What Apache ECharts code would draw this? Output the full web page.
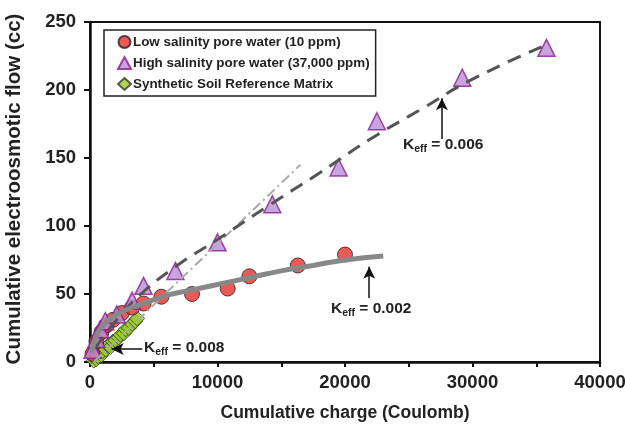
<!DOCTYPE html>
<html>
<head>
<meta charset="utf-8">
<script src="https://cdn.jsdelivr.net/npm/echarts@6/dist/echarts.min.js"></script>
<style>
  html, body { margin: 0; padding: 0; background: #fff; }
  #chart { width: 625px; height: 428px; }
</style>
</head>
<body>
<div id="chart"></div>
<script>
// measured points (charge in C, flow in cc)
const lowCharge = [200, 500, 900, 1300, 1800, 2500, 3300, 4200, 5600, 8000, 10800, 12500, 16300, 20000];
const lowFlow   = [6, 15, 22, 27, 31, 36, 40, 43, 48, 50, 54, 63, 71, 79];

const highCharge = [200, 500, 800, 1200, 2100, 3300, 4200, 6700, 10000, 14300, 19500, 22500, 29200, 35800];
const highFlow   = [9, 17, 24, 30, 35, 45, 56, 67, 88, 116, 143, 177, 209, 231];

const soilCharge = [300, 500, 650, 900, 1000, 1250, 1400, 1600, 1800, 2000, 2250, 2400, 2650, 2800, 3050, 3300, 3550, 3700];
const soilFlow   = [1, 2, 4, 5, 8, 9, 12, 11, 15, 16, 18, 20, 21, 24, 25, 28, 30, 32];

// fitted trend lines
const fitLowCharge = [150, 700, 1800, 3000, 4500, 6000, 8000, 10000, 12500, 15000, 17500, 20000, 23000];
const fitLowFlow   = [7, 23, 33, 39, 44, 49, 53, 57, 62, 67, 71, 75, 78];

const fitHighCharge = [400, 2000, 4000, 7000, 10000, 14000, 18000, 22000, 26000, 30000, 36000];
const fitHighFlow   = [10, 30, 50, 72, 90, 115, 139, 164, 186, 208, 234];

const fitSoilCharge = [300, 16500];
const fitSoilFlow   = [0, 145];

const xTicks = [0, 10000, 20000, 30000, 40000];

const pairs = (xs, ys) => xs.map((x, i) => [x, ys[i]]);

const chart = echarts.init(document.getElementById('chart'));
const FONT = 'Liberation Sans, Arial, sans-serif';

const keffLabel = (val, left, top) => ({
  type: 'text',
  left: left,
  top: top,
  z: 20,
  style: {
    text: '{k|K}{s|eff}{k| = ' + val + '}',
    rich: {
      k: { fontFamily: FONT, fontWeight: 'bold', fontSize: 15.5, fill: '#222' },
      s: { fontFamily: FONT, fontWeight: 'bold', fontSize: 10.5, fill: '#222', padding: [8, 0, 0, 0] }
    }
  }
});

const arrowLine = (from, to) => ({
  symbol: ['none', 'arrow'],
  symbolSize: [9, 12],
  lineStyle: { color: '#111', width: 1.5, type: 'solid' },
  label: { show: false },
  data: [[{ coord: from }, { coord: to }]]
});

const option = {
  animation: false,
  textStyle: { fontFamily: FONT },
  grid: {
    left: 90, right: 25, top: 22, bottom: 66,
    outerBoundsMode: 'none', containLabel: false,
    show: true, borderColor: '#111', borderWidth: 2
  },
  legend: {
    data: ['Low salinity pore water (10 ppm)', 'High salinity pore water (37,000 ppm)', 'Synthetic Soil Reference Matrix'],
    orient: 'vertical',
    left: 104,
    top: 30,
    padding: [5, 6, 5, 13],
    itemGap: 7,
    itemWidth: 13,
    itemHeight: 12,
    borderColor: '#222',
    borderWidth: 1.5,
    backgroundColor: '#fff',
    textStyle: { fontFamily: FONT, fontWeight: 'bold', fontSize: 13.4, color: '#222', padding: [0, 0, 0, -3] }
  },
  xAxis: {
    type: 'value',
    min: 0,
    max: 40000,
    interval: 5000,
    name: 'Cumulative charge (Coulomb)',
    nameLocation: 'middle',
    nameGap: 42,
    nameTextStyle: { fontFamily: FONT, fontWeight: 'bold', fontSize: 17.5, color: '#222' },
    splitLine: { show: false },
    axisLine: { onZero: false, lineStyle: { color: '#111', width: 2.5 } },
    axisTick: { inside: false, length: 5, lineStyle: { color: '#111', width: 2 } },
    axisLabel: {
      margin: 11,
      fontFamily: FONT, fontWeight: 'bold', fontSize: 18.5, color: '#222',
      formatter: v => (xTicks.indexOf(v) >= 0 ? String(v) : '')
    }
  },
  yAxis: {
    type: 'value',
    min: 0,
    max: 250,
    interval: 50,
    name: 'Cumulative electroosmotic flow (cc)',
    nameLocation: 'middle',
    nameGap: 65,
    nameTextStyle: { fontFamily: FONT, fontWeight: 'bold', fontSize: 20.5, color: '#222', padding: [0, 0, 0, 6] },
    splitLine: { show: false },
    axisLine: { onZero: false, lineStyle: { color: '#111', width: 2.5 } },
    axisTick: { inside: false, length: 6, lineStyle: { color: '#111', width: 2 } },
    axisLabel: { margin: 14, fontFamily: FONT, fontWeight: 'bold', fontSize: 18.5, color: '#222' }
  },
  graphic: [
    keffLabel('0.006', 403, 137),
    keffLabel('0.002', 331, 301),
    keffLabel('0.008', 144, 340)
  ],
  series: [
    {
      name: 'Synthetic Soil Reference Matrix',
      type: 'scatter',
      symbol: 'diamond',
      symbolSize: 15,
      z: 2,
      itemStyle: { color: '#9acd2a', borderColor: '#333', borderWidth: 1 },
      data: pairs(soilCharge, soilFlow)
    },
    {
      name: 'Low salinity pore water (10 ppm)',
      type: 'scatter',
      symbol: 'circle',
      symbolSize: 15,
      z: 2,
      itemStyle: { color: '#e5322b', borderColor: '#222', borderWidth: 1 },
      data: pairs(lowCharge, lowFlow)
    },
    {
      name: 'High salinity pore water (37,000 ppm)',
      type: 'scatter',
      symbol: 'triangle',
      symbolSize: 17,
      z: 2,
      itemStyle: { color: '#bb8fd8', borderColor: '#8a1a8e', borderWidth: 1.5 },
      data: pairs(highCharge, highFlow)
    },
    {
      name: 'fit soil',
      type: 'line',
      showSymbol: false,
      z: 3,
      lineStyle: { color: '#aaaaaa', width: 2, type: [10, 4, 2, 4] },
      data: pairs(fitSoilCharge, fitSoilFlow)
    },
    {
      name: 'fit high',
      type: 'line',
      smooth: true,
      showSymbol: false,
      z: 4,
      lineStyle: { color: '#555555', width: 3, type: [14, 9] },
      data: pairs(fitHighCharge, fitHighFlow),
      markLine: arrowLine([27600, 164], [27600, 194])
    },
    {
      name: 'fit low',
      type: 'line',
      smooth: true,
      showSymbol: false,
      z: 4,
      lineStyle: { color: '#888888', width: 5 },
      data: pairs(fitLowCharge, fitLowFlow),
      markLine: arrowLine([21900, 47], [21900, 70])
    },
    {
      name: 'arrow soil',
      type: 'line',
      showSymbol: false,
      z: 5,
      data: [],
      markLine: arrowLine([4100, 9.6], [1700, 9.6])
    }
  ]
};

chart.setOption(option);
</script>
</body>
</html>
